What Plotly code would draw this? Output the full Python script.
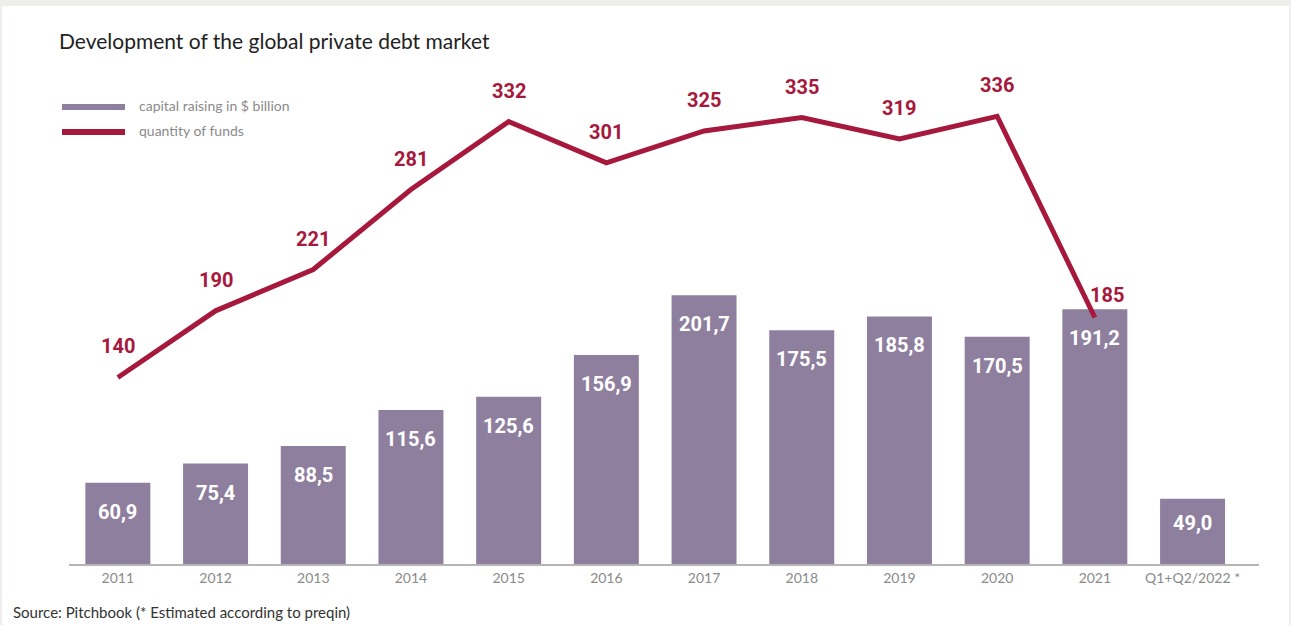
import plotly.graph_objects as go

categories = ["2011", "2012", "2013", "2014", "2015", "2016", "2017", "2018", "2019", "2020", "2021", "Q1+Q2/2022 *"]
capital = [60.9, 75.4, 88.5, 115.6, 125.6, 156.9, 201.7, 175.5, 185.8, 170.5, 191.2, 49.0]
funds_years = categories[:11]
funds = [140, 190, 221, 281, 332, 301, 325, 335, 319, 336, 185]

BAR = "#8f7f9f"
RED = "#a6193c"
W, H = 1291, 625
L, R, T, B = 69, 32, 31, 61
PW, PH = W - L - R, H - T - B


def px(x):
    return (x - L) / PW


def py(y):
    return (H - B - y) / PH


def fmt(v):
    return f"{v:.1f}".replace(".", ",")


fig = go.Figure()
fig.add_trace(go.Bar(x=categories, y=capital, marker=dict(color=BAR, line=dict(width=0)),
                     width=0.665, showlegend=False, hoverinfo="skip"))
fig.add_trace(go.Scatter(x=funds_years, y=funds, mode="lines", line=dict(color=RED, width=5),
                         showlegend=False, hoverinfo="skip"))

ann = []
for i, v in enumerate(capital):
    ann.append(dict(x=i, y=v, xref="x", yref="y", text=f"<b>{fmt(v)}</b>", showarrow=False,
                    yshift=-24 if v < 55 else -29, yanchor="middle",
                    font=dict(family="Roboto", size=20, color="white")))
for i, v in enumerate(funds):
    last = i == len(funds) - 1
    ann.append(dict(x=i, y=v, xref="x", yref="y", text=f"<b>{v}</b>", showarrow=False,
                    yshift=22 if last else 31, xshift=12 if last else 0, yanchor="middle",
                    font=dict(family="Roboto", size=20, color=RED)))

ann.append(dict(x=px(57), y=py(40), xref="paper", yref="paper", xanchor="left", yanchor="middle",
                text="Development of the global private debt market", showarrow=False,
                font=dict(family="Lato", size=21, color="#222222")))
ann.append(dict(x=px(137), y=py(105), xref="paper", yref="paper", xanchor="left", yanchor="middle",
                text="capital raising in $ billion", showarrow=False,
                font=dict(family="Lato", size=14, color="#8a8a8a")))
ann.append(dict(x=px(137), y=py(130), xref="paper", yref="paper", xanchor="left", yanchor="middle",
                text="quantity of funds", showarrow=False,
                font=dict(family="Lato", size=14, color="#8a8a8a")))
ann.append(dict(x=px(11), y=py(612), xref="paper", yref="paper", xanchor="left", yanchor="middle",
                text="Source: Pitchbook (* Estimated according to preqin)", showarrow=False,
                font=dict(family="Lato", size=15, color="#333333")))

shapes = [
    dict(type="rect", xref="paper", yref="paper", x0=px(2), x1=px(1289), y0=py(6), y1=py(640),
         fillcolor="white", line=dict(width=0), layer="below"),
    dict(type="line", xref="paper", yref="paper", x0=px(62), x1=px(125), y0=py(107), y1=py(107),
         line=dict(color=BAR, width=6)),
    dict(type="line", xref="paper", yref="paper", x0=px(62), x1=px(125), y0=py(132), y1=py(132),
         line=dict(color=RED, width=6)),
]

fig.update_layout(
    width=W, height=H,
    margin=dict(l=L, r=R, t=T, b=B),
    paper_bgcolor="#efeeea", plot_bgcolor="rgba(0,0,0,0)",
    annotations=ann, shapes=shapes, showlegend=False,
    xaxis=dict(type="category", range=[-0.5, 11.68], showgrid=False, zeroline=False,
               showline=True, linecolor="#b5b5b5", linewidth=2, ticks="",
               tickfont=dict(family="Lato", size=14, color="#8a8a8a"), fixedrange=True),
    yaxis=dict(range=[0, 400], showgrid=False, zeroline=False, showticklabels=False,
               showline=False, fixedrange=True),
)
fig.write_html("out.html")
